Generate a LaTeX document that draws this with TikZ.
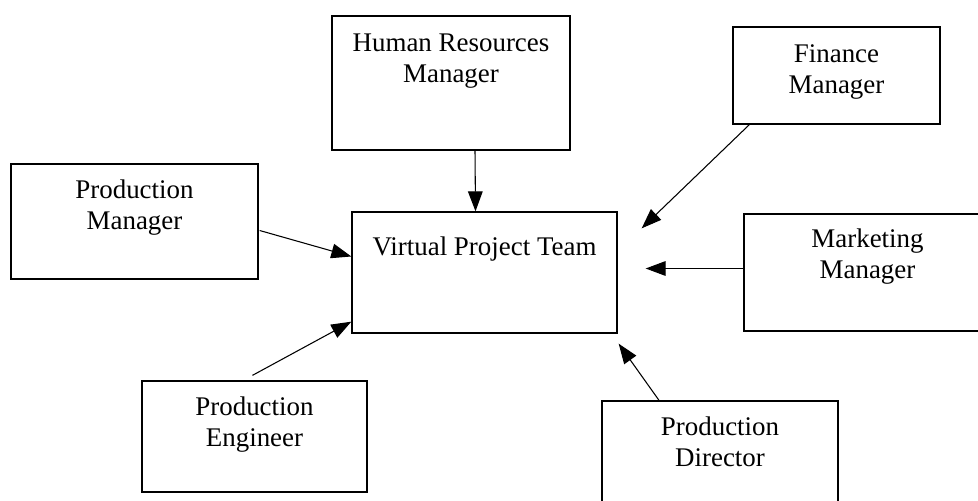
\documentclass[tikz,border=0pt]{standalone}
\usepackage{fontspec}
\setmainfont{Liberation Serif}
\usetikzlibrary{arrows.meta,calc}
\begin{document}
\begin{tikzpicture}[x=0.75pt,y=-0.75pt,
  box/.style={draw, line width=1pt, rectangle, inner sep=0pt},
  lab/.style={anchor=north, align=center, inner sep=0pt, font=\fontsize{20.2}{23.3}\selectfont},
  arr/.style={line width=0.8pt, -{Triangle[length=15pt,width=11pt]}}]
\useasboundingbox (0,0) rectangle (978,500);
\node[box, minimum width=238*0.75pt, minimum height=134*0.75pt,
  label={[lab, yshift=-18*0.75pt]north:{Human Resources\\Manager}}] (hr) at (451,83) {};
\node[box, minimum width=207*0.75pt, minimum height=97*0.75pt,
  label={[lab, yshift=-18*0.75pt]north:{Finance\\Manager}}] (fin) at (836.5,75.5) {};
\node[box, minimum width=247*0.75pt, minimum height=115*0.75pt,
  label={[lab, yshift=-16*0.75pt]north:{Production\\Manager}}] (pm) at (134.5,221.5) {};
\node[box, minimum width=265*0.75pt, minimum height=121*0.75pt,
  label={[lab, yshift=-25*0.75pt]north:{Virtual Project Team}}] (vpt) at (484.5,272.5) {};
\node[box, minimum width=247*0.75pt, minimum height=117*0.75pt,
  label={[lab, yshift=-15*0.75pt]north:{Marketing\\Manager}}] (mm) at (867.5,272.5) {};
\node[box, minimum width=225*0.75pt, minimum height=111*0.75pt,
  label={[lab, yshift=-16*0.75pt]north:{Production\\Engineer}}] (pe) at (254.5,436.5) {};
\node[box, minimum width=236*0.75pt, minimum height=110*0.75pt,
  label={[lab, yshift=-16*0.75pt]north:{Production\\Director}}] (pd) at (720,456) {};
% connectors
\draw[arr] ($(hr.south)+(24,0)$) -- ($(vpt.north)+(-9,0)$);
\draw[arr] ($(fin.south west)+(17,0)$) -- ($(vpt.north east)+(24,17)$);
\draw[arr] ($(mm.west)+(0,-4)$) -- ($(vpt.east)+(28,-4)$);
\draw[arr] ($(pm.east)+(1,9)$) -- ($(vpt.west)+(0,-16)$);
\draw[arr] ($(pe.north)+(-2,-5)$) -- ($(vpt.south west)+(0,-12)$);
\draw[arr] ($(pd.north)+(-61,0)$) -- ($(vpt.south east)+(1,10)$);
\end{tikzpicture}
\end{document}
